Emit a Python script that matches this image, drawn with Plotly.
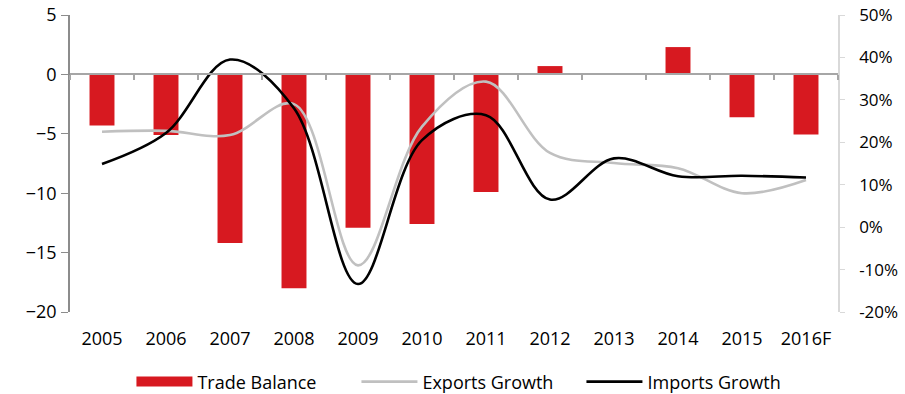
import plotly.graph_objects as go

years = ["2005", "2006", "2007", "2008", "2009", "2010", "2011", "2012", "2013", "2014", "2015", "2016F"]
trade_balance = [-4.3, -5.1, -14.2, -18.0, -12.9, -12.6, -9.9, 0.7, 0.0, 2.3, -3.6, -5.05]
exports_growth = [0.225, 0.227, 0.217, 0.29, -0.09, 0.237, 0.343, 0.175, 0.151, 0.139, 0.08, 0.111]
imports_growth = [0.149, 0.222, 0.395, 0.28, -0.134, 0.205, 0.264, 0.065, 0.162, 0.12, 0.121, 0.117]
pct_tick_vals = [-0.2, -0.1, 0.0, 0.1, 0.2, 0.3, 0.4, 0.5]
pct_tick_text = ["-20%", "-10%", "0%", "10%", "20%", "30%", "40%", "50%"]

RED = "#D71920"
GRAY = "#C0C0C0"
BLACK = "#000000"
FONT = "'Open Sans', 'Noto Sans', sans-serif"
FS = 18
XR = [-0.5, len(years) - 0.5]

fig = go.Figure()

fig.add_trace(go.Bar(x=years, y=trade_balance, marker_color=RED, marker_line_width=0,
                     xaxis="x", yaxis="y", showlegend=False, name="Trade Balance"))
fig.add_trace(go.Scatter(x=years, y=exports_growth, mode="lines", line=dict(color=GRAY, width=2.6, shape="spline", smoothing=1.0),
                         xaxis="x2", yaxis="y2", showlegend=False, name="Exports Growth"))
fig.add_trace(go.Scatter(x=years, y=imports_growth, mode="lines", line=dict(color=BLACK, width=2.6, shape="spline", smoothing=1.0),
                         xaxis="x2", yaxis="y2", showlegend=False, name="Imports Growth"))

# legend entries
fig.add_trace(go.Scatter(x=[None], y=[None], mode="lines", line=dict(color=RED, width=10), name="Trade Balance", xaxis="x2", yaxis="y2"))
fig.add_trace(go.Scatter(x=[None], y=[None], mode="lines", line=dict(color=GRAY, width=2.6), name="Exports Growth", xaxis="x2", yaxis="y2"))
fig.add_trace(go.Scatter(x=[None], y=[None], mode="lines", line=dict(color=BLACK, width=2.6), name="Imports Growth", xaxis="x2", yaxis="y2"))

fig.update_layout(
    template="none",
    width=905, height=394,
    margin=dict(l=70, r=67, t=15, b=82, autoexpand=False),
    plot_bgcolor="white", paper_bgcolor="white",
    font=dict(family=FONT, size=FS, color="#000000"),
    bargap=0.61,
    xaxis=dict(type="category", categoryorder="array", categoryarray=years, range=XR,
               showline=False, ticks="", showgrid=False, zeroline=False, automargin=False,
               ticklabelstandoff=14, tickfont=dict(size=FS)),
    xaxis2=dict(type="category", categoryorder="array", categoryarray=years, range=XR,
                overlaying="x", anchor="free", position=0.8, side="bottom",
                showline=True, linecolor="#A6A6A6", linewidth=2, automargin=False,
                ticks="outside", ticklen=5, tickwidth=1.5, tickcolor="#A6A6A6",
                tickson="boundaries", showticklabels=False, showgrid=False, zeroline=False),
    yaxis=dict(range=[-20, 5], dtick=5, showline=True, linecolor="#8C8C8C", linewidth=1.5,
               ticks="outside", ticklen=7, tickcolor="#8C8C8C", showgrid=False, zeroline=False,
               ticklabelstandoff=1, automargin=False),
    yaxis2=dict(range=[-0.2, 0.5], tickmode="array", tickvals=pct_tick_vals, ticktext=pct_tick_text,
                overlaying="y", side="right", tickfont=dict(size=17),
                showline=True, linecolor="#D9D9D9", linewidth=1.5, automargin=False,
                ticks="outside", ticklen=5, tickcolor="#D9D9D9", showgrid=False, zeroline=False,
                ticklabelstandoff=11),
    legend=dict(orientation="h", x=0.08, xanchor="left", y=-0.173, yanchor="top",
                itemwidth=56, entrywidth=154, font=dict(size=FS), traceorder="normal",
                bgcolor="rgba(0,0,0,0)"),
)

fig.write_html("out.html")
